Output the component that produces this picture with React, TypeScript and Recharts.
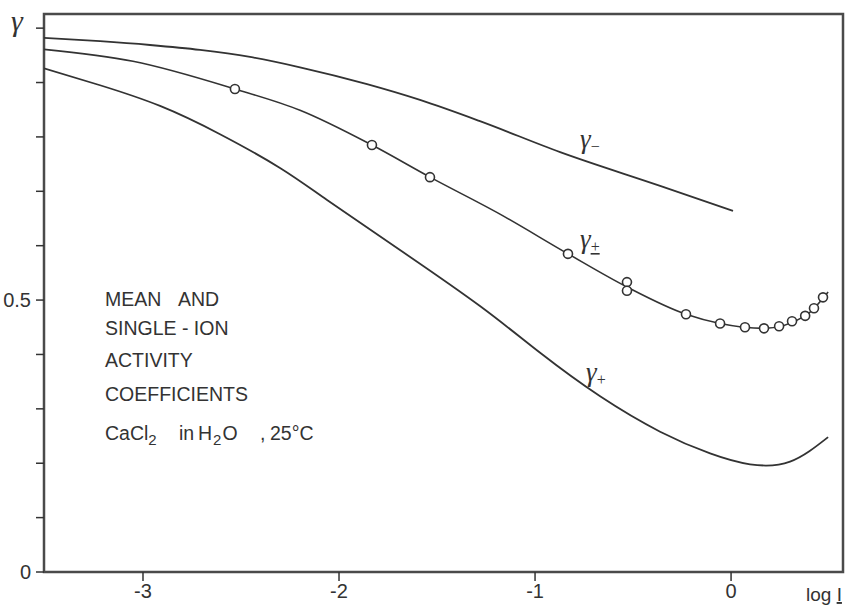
import { ComposedChart, Line, Scatter, XAxis, YAxis, ReferenceArea } from 'recharts'

// gamma minus (single-ion, anion)
const minusLogI = [-3.505, -3.219, -2.964, -2.709, -2.454, -2.199, -1.857, -1.587, -1.281, -0.872, -0.362, 0.01]
const minusGamma = [0.982, 0.976, 0.969, 0.96, 0.947, 0.928, 0.897, 0.868, 0.829, 0.772, 0.71, 0.664]

// gamma plus-minus (mean), fitted curve
const meanLogI = [-3.505, -3.051, -2.531, -2.199, -1.832, -1.536, -1.179, -0.832, -0.531, -0.23, -0.056, 0.168, 0.378, 0.495]
const meanGamma = [0.961, 0.939, 0.888, 0.849, 0.785, 0.726, 0.658, 0.585, 0.524, 0.474, 0.457, 0.448, 0.471, 0.515]

// measured mean values (circles)
const pointLogI = [-2.531, -1.832, -1.536, -0.832, -0.531, -0.531, -0.23, -0.056, 0.071, 0.168, 0.245, 0.311, 0.378, 0.423, 0.469]
const pointGamma = [0.888, 0.785, 0.726, 0.585, 0.533, 0.517, 0.474, 0.457, 0.45, 0.448, 0.452, 0.461, 0.471, 0.485, 0.505]

// gamma plus (single-ion, cation)
const plusLogI = [-3.505, -3.219, -2.913, -2.607, -2.301, -2.061, -1.689, -1.281, -0.974, -0.668, -0.362, -0.107, 0.097, 0.301, 0.495]
const plusGamma = [0.926, 0.895, 0.857, 0.805, 0.743, 0.684, 0.592, 0.489, 0.403, 0.323, 0.258, 0.218, 0.198, 0.203, 0.248]

const xTicks = [-3, -2, -1, 0]
const yTicks = [0, 0.1, 0.2, 0.3, 0.4, 0.5, 0.6, 0.7, 0.8, 0.9, 1.0]
const yLabels: Record<string, string> = { '0': '0', '0.5': '0.5' }

const X_DOMAIN: [number, number] = [-3.505, 0.571]
const Y_DOMAIN: [number, number] = [0, 1.026]

const ink = '#333'
const font = '"Liberation Sans", Arial, sans-serif'
const gammaFont = '"Liberation Serif", "DejaVu Serif", serif'

const toRows = (xs: number[], ys: number[]) => xs.map((x, i) => ({ x, y: ys[i] }))

export default function App() {
  const minusData = toRows(minusLogI, minusGamma)
  const meanData = toRows(meanLogI, meanGamma)
  const pointData = toRows(pointLogI, pointGamma)
  const plusData = toRows(plusLogI, plusGamma)

  return (
    <div style={{ position: 'absolute', left: 0, top: 0, width: 850, height: 607, background: '#fff' }}>
      <ComposedChart width={850} height={607} margin={{ top: 14, right: 7, left: 0, bottom: 0 }}>
        <XAxis
          dataKey="x"
          type="number"
          domain={X_DOMAIN}
          ticks={xTicks}
          allowDataOverflow
          axisLine={false}
          tickSize={9}
          tickMargin={3}
          height={35}
          tickLine={{ stroke: ink, strokeWidth: 1.5 }}
          tick={{ fill: ink, fontSize: 20, fontFamily: font }}
        />
        <YAxis
          dataKey="y"
          type="number"
          domain={Y_DOMAIN}
          ticks={yTicks}
          allowDataOverflow
          axisLine={false}
          width={44}
          tickSize={8}
          tickMargin={5}
          tickFormatter={(v: number) => yLabels[String(v)] ?? ''}
          tickLine={{ stroke: ink, strokeWidth: 1.5 }}
          tick={{ fill: ink, fontSize: 20, fontFamily: font }}
        />
        <ReferenceArea
          x1={X_DOMAIN[0]}
          x2={X_DOMAIN[1]}
          y1={Y_DOMAIN[0]}
          y2={Y_DOMAIN[1]}
          fill="none"
          stroke="#4a4a4a"
          strokeWidth={2.5}
          ifOverflow="visible"
        />
        <Line data={minusData} dataKey="y" type="monotone" stroke={ink} strokeWidth={1.8} dot={false} isAnimationActive={false} />
        <Line data={meanData} dataKey="y" type="monotone" stroke={ink} strokeWidth={1.6} dot={false} isAnimationActive={false} />
        <Line data={plusData} dataKey="y" type="natural" stroke={ink} strokeWidth={1.8} dot={false} isAnimationActive={false} />
        <Scatter
          data={pointData}
          dataKey="y"
          isAnimationActive={false}
          shape={(p: any) => <circle cx={p.cx} cy={p.cy} r={4.5} fill="#fff" stroke={ink} strokeWidth={1.6} />}
        />
      </ComposedChart>

      <svg width={850} height={607} style={{ position: 'absolute', left: 0, top: 0, pointerEvents: 'none' }} fontFamily={font} fill={ink}>
        <text x={11} y={31} fontSize={30} fontFamily={gammaFont} fontStyle="italic">γ</text>
        <text x={580} y={148} fontSize={27} fontFamily={gammaFont} fontStyle="italic">γ<tspan fontSize={16} dy={4} fontStyle="normal">−</tspan></text>
        <text x={580} y={248} fontSize={27} fontFamily={gammaFont} fontStyle="italic">γ<tspan fontSize={16} dy={4} fontStyle="normal" textDecoration="underline">+</tspan></text>
        <text x={586} y={381} fontSize={27} fontFamily={gammaFont} fontStyle="italic">γ<tspan fontSize={16} dy={4} fontStyle="normal">+</tspan></text>
        <g fontSize={19.5}>
          <text x={105} y={306}>MEAN</text>
          <text x={178} y={306}>AND</text>
          <text x={105} y={335}>SINGLE - ION</text>
          <text x={105} y={367}>ACTIVITY</text>
          <text x={105} y={401}>COEFFICIENTS</text>
          <text x={105} y={440}>CaCl<tspan fontSize={15} dy={5}>2</tspan></text>
          <text x={179} y={440}>in</text>
          <text x={198} y={440} letterSpacing={1}>H<tspan fontSize={15} dy={5}>2</tspan><tspan dy={-5}>O</tspan></text>
          <text x={260} y={440}>,</text>
          <text x={270} y={440}>25°C</text>
        </g>
        <text x={806} y={601} fontSize={19}>log <tspan textDecoration="underline">I</tspan></text>
      </svg>
    </div>
  )
}
